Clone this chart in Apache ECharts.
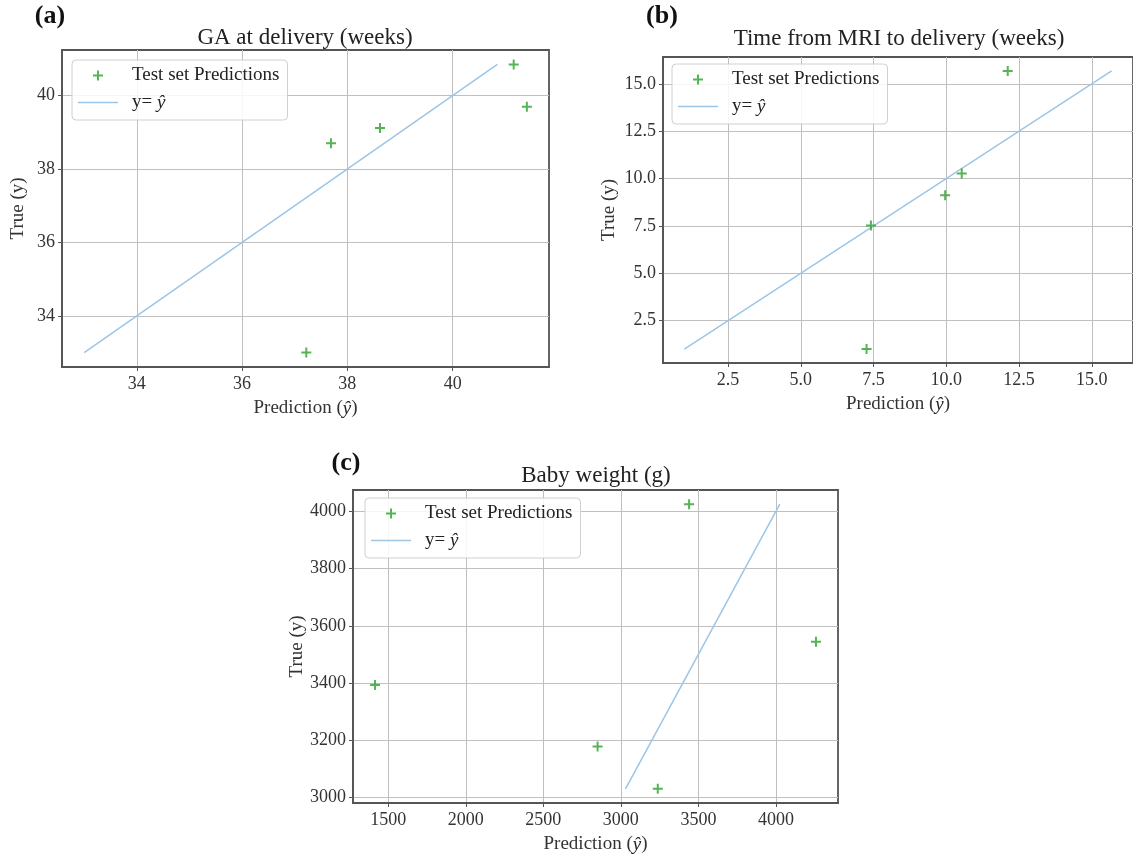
<!DOCTYPE html>
<html><head><meta charset="utf-8">
<script src="https://cdn.jsdelivr.net/npm/echarts@6/dist/echarts.min.js"></script>
<style>html,body{margin:0;padding:0;background:#fff}#c{width:1133px;height:859px}</style>
</head><body><div id="c"></div>
<script>
// ---- data ----
const panelLabels = ['(a)', '(b)', '(c)'];
const panelTitles = ['GA at delivery (weeks)', 'Time from MRI to delivery (weeks)', 'Baby weight (g)'];

const aPred = [37.22, 37.69, 38.62, 41.16, 41.41];
const aTrue = [33.0, 38.70, 39.12, 40.85, 39.70];
const bPred = [7.26, 7.41, 9.96, 10.53, 12.11];
const bTrue = [1.0, 7.52, 9.12, 10.26, 15.68];
const cPred = [1415, 2850, 3238, 3440, 4258];
const cTrue = [3393, 3178, 3030, 4025, 3544];

const aTicks = [34, 36, 38, 40];
const bTicks = [2.5, 5.0, 7.5, 10.0, 12.5, 15.0];
const cXTicks = [1500, 2000, 2500, 3000, 3500, 4000];
const cYTicks = [3000, 3200, 3400, 3600, 3800, 4000];

const SCATTER_NAME = 'Test set Predictions';
const LINE_NAME = 'y= ŷ';

// ---- helpers ----
const FONT = '"Liberation Serif", "DejaVu Serif", serif';
const GREEN = '#2ca02c';
const BLUE = '#9cc5e6';
const PLUS = 'path://M4,0h2v4h4v2h-4v4h-2v-4h-4v-2h4z';
const PLUS_ICON = 'path://M-2,-2M12,12M4,0h2v4h4v2h-4v4h-2v-4h-4v-2h4z';
const LINE_ICON = 'path://M0,0h40v1.4h-40z';

function identityLine(t) {
  const lo = Math.min(...t), hi = Math.max(...t);
  return [[lo, lo], [hi, hi]];
}
function padded(vals) { // matplotlib 5% autoscale margins
  const lo = Math.min(...vals), hi = Math.max(...vals), r = hi - lo;
  return [lo - 0.05 * r, hi + 0.05 * r];
}

const panels = [
  {pred: aPred, tru: aTrue, xt: aTicks, yt: aTicks, dec: 0,
   grid: {left: 62, top: 50, width: 487, height: 317}, yGap: 34, leg: [72, 60]},
  {pred: bPred, tru: bTrue, xt: bTicks, yt: bTicks, dec: 1,
   grid: {left: 663, top: 57, width: 474, height: 306}, yGap: 44, leg: [672, 64]},
  {pred: cPred, tru: cTrue, xt: cXTicks, yt: cYTicks, dec: 0,
   grid: {left: 353, top: 490, width: 485, height: 313}, yGap: 45, leg: [365, 498]}
];

const rich = {h: {fontStyle: 'italic', fontFamily: FONT, fontSize: 19, color: '#222'}};
const grids = [], xAxes = [], yAxes = [], series = [], legends = [];

panels.forEach((p, i) => {
  const line = identityLine(p.tru);
  const xr = padded(p.pred.concat(line.map(d => d[0])));
  const yr = padded(p.tru);
  grids.push(Object.assign({show: true, borderColor: '#555', borderWidth: 1.8, backgroundColor: '#fff'}, p.grid));
  const fmt = v => p.dec ? Number(v).toFixed(p.dec) : String(v);
  const axisCommon = {
    type: 'value', gridIndex: i,
    axisLine: {show: true, lineStyle: {color: '#555', width: 1.8}},
    axisTick: {show: true, inside: false, length: 4, lineStyle: {color: '#555'}},
    splitLine: {show: true, lineStyle: {color: '#bfbfbf', width: 1}},
    axisLabel: {color: '#333', fontFamily: FONT, fontSize: 18, margin: 8, formatter: fmt, showMinLabel: true, showMaxLabel: true},
    nameLocation: 'middle',
    nameTextStyle: {color: '#333', fontFamily: FONT, fontSize: 19, rich: rich}
  };
  xAxes.push(Object.assign({}, axisCommon, {
    min: xr[0], max: xr[1],
    name: 'Prediction ({h|ŷ})', nameGap: 32,
    axisTick: Object.assign({}, axisCommon.axisTick, {customValues: p.xt}),
    axisLabel: Object.assign({}, axisCommon.axisLabel, {customValues: p.xt})
  }));
  yAxes.push(Object.assign({}, axisCommon, {
    min: yr[0], max: yr[1],
    name: 'True (y)', nameGap: p.yGap,
    axisTick: Object.assign({}, axisCommon.axisTick, {customValues: p.yt}),
    axisLabel: Object.assign({}, axisCommon.axisLabel, {customValues: p.yt, margin: 7})
  }));
  series.push({
    type: 'line', name: LINE_NAME, xAxisIndex: i, yAxisIndex: i,
    data: line, symbol: 'none', lineStyle: {color: BLUE, width: 1.5}, itemStyle: {color: BLUE},
    silent: true, animation: false, z: 2
  });
  series.push({
    type: 'scatter', name: SCATTER_NAME, xAxisIndex: i, yAxisIndex: i,
    data: p.pred.map((x, k) => [x, p.tru[k]]),
    symbol: PLUS, symbolSize: 10, itemStyle: {color: GREEN},
    animation: false, z: 3
  });
  legends.push({
    left: p.leg[0], top: p.leg[1], orient: 'vertical',
    data: [{name: SCATTER_NAME, icon: PLUS_ICON}, {name: LINE_NAME, icon: LINE_ICON}],
    itemWidth: 40, itemHeight: 14, itemGap: 8, symbolKeepAspect: true,
    padding: [6, 8, 8, 6],
    backgroundColor: 'rgba(255,255,255,0.85)', borderColor: '#d0d0d0', borderWidth: 1, borderRadius: 4,
    textStyle: {fontFamily: FONT, fontSize: 19, lineHeight: 19, color: '#222', padding: [0, 0, 0, 9], rich: rich},
    formatter: n => n === LINE_NAME ? 'y= {h|ŷ}' : n,
    selectedMode: false, z: 10
  });
});

const titlePos = [[305, 26], [899, 27], [596, 464]];
const labelPos = [[50, 3], [662, 3], [346, 450]];
const titles = [];
panelTitles.forEach((t, i) => titles.push({
  text: t, left: titlePos[i][0], top: titlePos[i][1], textAlign: 'center', padding: 0,
  textStyle: {fontFamily: FONT, fontSize: 23, fontWeight: 'normal', color: '#222'}
}));
panelLabels.forEach((t, i) => titles.push({
  text: t, left: labelPos[i][0], top: labelPos[i][1], textAlign: 'center', padding: 0,
  textStyle: {fontFamily: FONT, fontSize: 26, fontWeight: 'bold', color: '#111'}
}));

const chart = echarts.init(document.getElementById('c'), null, {renderer: 'canvas'});
chart.setOption({
  animation: false,
  backgroundColor: '#fff',
  title: titles,
  grid: grids, xAxis: xAxes, yAxis: yAxes,
  legend: legends,
  series: series
});
</script></body></html>
